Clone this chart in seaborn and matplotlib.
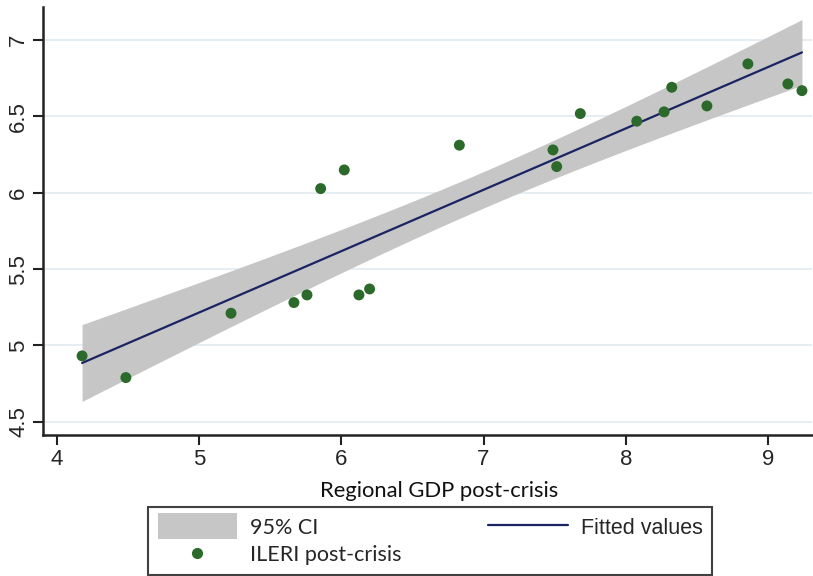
import numpy as np
import pandas as pd
import matplotlib
matplotlib.use("Agg")
import matplotlib.pyplot as plt
import seaborn as sns
from matplotlib.patches import Patch
from matplotlib.lines import Line2D

# ---- data ----
gdp = [4.178, 4.486, 5.225, 5.667, 5.759, 5.855, 6.021, 6.124, 6.199, 6.830,
       7.488, 7.514, 7.680, 8.077, 8.269, 8.323, 8.570, 8.858, 9.139, 9.238]
ileri = [4.932, 4.790, 5.211, 5.281, 5.331, 6.027, 6.149, 5.331, 5.370, 6.311,
         6.280, 6.171, 6.518, 6.468, 6.529, 6.690, 6.568, 6.843, 6.712, 6.668]
x_ticks = [4, 5, 6, 7, 8, 9]
y_ticks = [4.5, 5, 5.5, 6, 6.5, 7]
y_tick_labels = ["4.5", "5", "5.5", "6", "6.5", "7"]

df = pd.DataFrame({"gdp": gdp, "ileri": ileri})

# OLS fit with analytic 95% CI of the mean prediction
x = df["gdp"].to_numpy()
y = df["ileri"].to_numpy()
n = len(x)
b1, b0 = np.polyfit(x, y, 1)
resid = y - (b0 + b1 * x)
s = np.sqrt(np.sum(resid ** 2) / (n - 2))
t_crit = 2.1009  # t(0.975, df=18)
xg = np.linspace(x.min(), x.max(), 200)
yg = b0 + b1 * xg
se = s * np.sqrt(1.0 / n + (xg - x.mean()) ** 2 / np.sum((x - x.mean()) ** 2))
fit = pd.DataFrame({"gdp": xg, "fit": yg, "lo": yg - t_crit * se, "hi": yg + t_crit * se})

sns.set_theme(style="white")
plt.rcParams["font.family"] = ["Liberation Sans", "DejaVu Sans"]

GREEN = "#2b6a2b"
NAVY = "#1b2463"
CI_GRAY = "#c6c6c6"
GRID = "#e4edf2"

fig = plt.figure(figsize=(8.13, 5.76), dpi=100)
ax = fig.add_axes([0.053, 0.245, 0.946, 0.743])

for yt in y_ticks:
    ax.axhline(yt, color=GRID, lw=1.3, zorder=0)

ax.fill_between(fit["gdp"], fit["lo"], fit["hi"], color=CI_GRAY, lw=0, zorder=1)
sns.lineplot(data=fit, x="gdp", y="fit", ax=ax, color=NAVY, lw=1.6, zorder=2)
sns.scatterplot(data=df, x="gdp", y="ileri", ax=ax, color=GREEN, s=62,
                edgecolor="none", zorder=3)

ax.set_xlim(3.904, 9.31)
ax.set_ylim(4.415, 7.216)
ax.set_xticks(x_ticks)
ax.set_xticklabels([str(v) for v in x_ticks], fontsize=16)
ax.set_yticks(y_ticks)
ax.set_yticklabels(y_tick_labels, fontsize=16, rotation=90, va="center")
ax.tick_params(axis="both", direction="out", length=7, width=1.5, color="#222222",
               bottom=True, left=True, pad=3)
ax.set_xlabel("Regional GDP post-crisis", fontsize=15.8, family=["Lato", "DejaVu Sans"],
              color="#111111")
ax.xaxis.set_label_coords(0.515, -0.108)
ax.set_ylabel("")
for side in ["top", "right"]:
    ax.spines[side].set_visible(False)
for side in ["left", "bottom"]:
    ax.spines[side].set_color("#222222")
    ax.spines[side].set_linewidth(1.8)

handles = [
    Patch(facecolor=CI_GRAY, edgecolor="none"),
    Line2D([], [], marker="o", ls="none", color=GREEN, markersize=7),
    Line2D([], [], color=NAVY, lw=1.6),
]
labels = ["95% CI", "ILERI post-crisis", "Fitted values"]
leg = fig.legend(handles, labels, ncol=2, loc="lower left",
                 bbox_to_anchor=(0.182, 0.002, 0.694, 0.12), mode="expand",
                 frameon=True, fancybox=False, edgecolor="#111111",
                 fontsize=15.5, handlelength=3.7, handleheight=1.0,
                 handletextpad=0.6, columnspacing=3.5, labelspacing=0.3,
                 borderpad=0.45, borderaxespad=0)
leg.get_frame().set_linewidth(1.5)
for t in leg.get_texts():
    t.set_family(["Lato", "DejaVu Sans"])
leg.get_texts()[2].set_family(["Liberation Sans", "DejaVu Sans"])
# the CI patch in the reference is a bit taller than the text line
for h in leg.legend_handles[:1]:
    h.set_height(h.get_height() * 1.35)
    h.set_y(h.get_y() - h.get_height() * 0.13)

fig.savefig("out.png", dpi=100)
